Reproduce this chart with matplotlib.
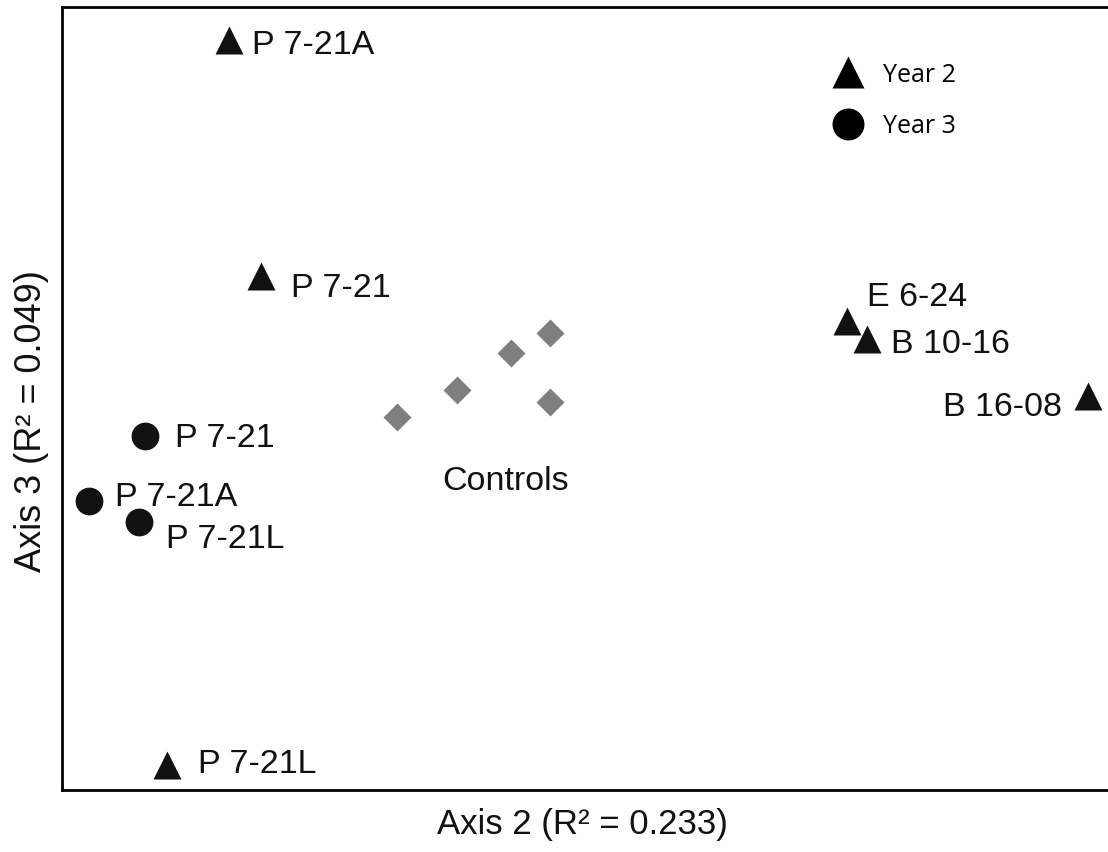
import matplotlib
matplotlib.use("Agg")
import matplotlib.pyplot as plt
from matplotlib.lines import Line2D

plt.rcParams["font.family"] = ["Liberation Sans", "DejaVu Sans"]

# ordination scores (axis 2, axis 3)
ctrl_x = [33.5, 39.5, 44.9, 48.8, 48.8]
ctrl_y = [37.3, 40.0, 43.7, 45.7, 38.8]

yr2_names = ["P 7-21A", "P 7-21", "P 7-21L", "E 6-24", "B 10-16", "B 16-08"]
yr2_x = [16.7, 19.9, 10.5, 78.5, 80.5, 102.6]
yr2_y = [75.0, 51.4, 2.5, 46.9, 45.1, 39.4]

yr3_names = ["P 7-21", "P 7-21A", "P 7-21L"]
yr3_x = [8.3, 2.7, 7.7]
yr3_y = [35.4, 28.9, 26.8]

# label offsets in points (dx, dy, ha)
yr2_off = [(16.5, -9.5, "left"), (21.5, -14.5, "left"), (22.5, -5, "left"),
           (14.5, 11.5, "left"), (17.5, -9.5, "left"), (-19, -13.5, "right")]
yr3_off = [(21.5, -7.5, "left"), (19, -3, "left"), (19.5, -18, "left")]

fig = plt.figure(figsize=(11.08, 8.53), dpi=100)
ax = fig.add_axes([62 / 1108, 62 / 853, 1050 / 1108, 783 / 853])

ax.plot(ctrl_x, ctrl_y, "D", ms=14.5, color="#7f7f7f", mec="none")
ax.plot(yr2_x, yr2_y, "^", ms=20, color="#111111", mec="none")
ax.plot(yr3_x, yr3_y, "o", ms=20, color="#111111", mec="none")

lab_fs = 24.5
for name, x, y, (dx, dy, ha) in zip(yr2_names, yr2_x, yr2_y, yr2_off):
    ax.annotate(name, (x, y), xytext=(dx, dy), textcoords="offset points",
                ha=ha, va="baseline", fontsize=lab_fs, color="#111111")
for name, x, y, (dx, dy, ha) in zip(yr3_names, yr3_x, yr3_y, yr3_off):
    ax.annotate(name, (x, y), xytext=(dx, dy), textcoords="offset points",
                ha=ha, va="baseline", fontsize=lab_fs, color="#111111")
ax.text(38.0, 30.1, "Controls", ha="left", va="baseline", fontsize=lab_fs,
        color="#111111")

ax.set_xlim(0, 105)
ax.set_ylim(0, 78.3)
ax.set_xticks([])
ax.set_yticks([])
for side in ["left", "bottom", "top"]:
    ax.spines[side].set_linewidth(2)
ax.spines["right"].set_visible(False)

ax.set_xlabel("Axis 2 (R\u00b2 = 0.233)", fontsize=25, color="#111111")
ax.xaxis.set_label_coords(0.4957, -0.0217)
ax.set_ylabel("Axis 3 (R\u00b2 = 0.049)", fontsize=26, color="#111111")
ax.yaxis.set_label_coords(-0.012, 0.4725)

handles = [Line2D([], [], ls="none", marker="^", ms=23, color="black", mec="none"),
           Line2D([], [], ls="none", marker="o", ms=23, color="black", mec="none")]
ax.legend(handles, ["Year 2", "Year 3"], loc="center", bbox_to_anchor=(0.794, 0.881),
          frameon=False, prop={"family": "Open Sans", "size": 18},
          handlelength=1.0, handletextpad=0.9, labelspacing=1.06)

fig.savefig("out.png", dpi=100)
